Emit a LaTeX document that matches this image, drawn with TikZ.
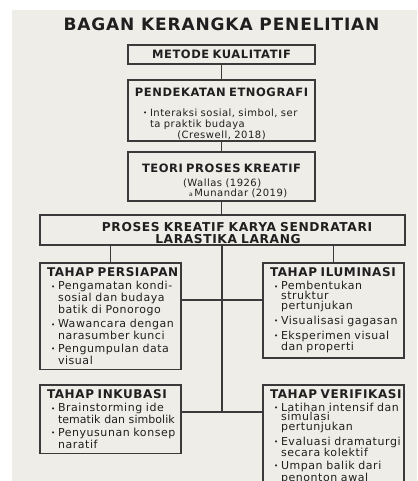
\documentclass[tikz,border=0pt]{standalone}
\usepackage{fontspec}
\setmainfont{DejaVu Sans}[LetterSpace=5]
\usetikzlibrary{positioning}

\definecolor{latar}{HTML}{EFEDE8}
\definecolor{garis}{HTML}{3A3A3A}
\definecolor{tinta}{HTML}{1F1F1F}

\setlength{\parindent}{0pt}
\lineskiplimit=-5pt
\hyphenpenalty=10000
\exhyphenpenalty=10000

\newcommand{\judul}[1]{\hspace*{3.5pt}{\fontsize{12}{12}\selectfont\bfseries #1}}
\newcommand{\judulatas}[1]{{\fontsize{11.5}{11.5}\selectfont\bfseries #1}}
\newcommand{\tengah}[1]{\makebox[\hsize][c]{#1}}
\newcommand{\rapat}[1]{{\addfontfeature{LetterSpace=0.5}#1}}
\newcommand{\tanda}{\raisebox{0.6pt}{\fontsize{7}{7}\selectfont\textbullet}}
\newcommand{\butir}[2][7.5pt]{\par\vspace{3pt}\hangindent=\dimexpr#1+7pt\relax\hangafter=1%
  \hspace*{#1}\makebox[7pt][l]{\tanda}#2\par}

\tikzset{
  kotak/.style={draw=garis, line width=1.3pt, outer sep=0pt, inner xsep=7pt,
    text=tinta, align=left, anchor=north west, font=\fontsize{11}{10}\selectfont},
  atas/.style={kotak, text width=173pt, inner ysep=1.5pt, font=\fontsize{10}{10}\selectfont},
  tahap/.style={kotak, text width=134pt, inner xsep=3.5pt, inner ysep=5pt},
  hubung/.style={draw=garis, line width=1.3pt}
}

\begin{document}
\begin{tikzpicture}[x=1pt,y=-1pt]
        \useasboundingbox (0,0) rectangle (417,481);
        \clip (0,0) rectangle (417,481);
        \fill[latar] (12,10) rectangle (417,481);

        % judul
        \node [text=tinta,font=\fontsize{17}{17}\selectfont\bfseries] (judulutama) at (221.5,24.5) {BAGAN KERANGKA PENELITIAN};

        % alur atas
        \node [atas,minimum height=19pt] (metode) at (128,45)
        {
        \tengah{\judulatas{METODE KUALITATIF}}
        };

        \node [atas,minimum height=60pt,font=\fontsize{10}{11}\selectfont] (etno) at (128,80)
        {
        \tengah{\rule{0pt}{15.4pt}\judulatas{PENDEKATAN ETNOGRAFI}}\par\vspace{5.3pt}
        \butir[8pt]{Interaksi sosial, simbol, ser\newline ta praktik budaya}
        \tengah{(Creswell, 2018)}
        };

        \node [atas,minimum height=49pt] (teori) at (128,152)
        {
        \tengah{\rule{0pt}{17.6pt}\judulatas{TEORI PROSES KREATIF}}\par\vspace{3.5pt}
        \hspace*{48pt}(Wallas (1926)\par
        \hspace*{54pt}{\fontsize{6}{6}\selectfont a}\,Munandar (2019)
        };

        \node [kotak,align=center,text width=351pt,minimum height=30pt,inner ysep=1pt,font=\fontsize{12.25}{11.7}\selectfont\bfseries] (proses) at (40,215)
        {
        \rule{0pt}{14.9pt}\hspace*{29pt}PROSES KREATIF KARYA SENDRATARI\\
        \hspace*{11pt}LARASTIKA LARANG
        };

        % empat tahap
        \node [tahap,minimum height=104pt] (persiapan) at (40,263)
        {
        \judul{TAHAP PERSIAPAN}
        \butir{Pengamatan kondi-\newline sosial dan budaya\newline batik di Ponorogo}
        \butir{Wawancara dengan\newline narasumber kunci}
        \butir{Pengumpulan data\newline visual}
        };

        \node [tahap,minimum height=95pt] (iluminasi) at (263,263)
        {
        \judul{TAHAP ILUMINASI}
        \butir{Pembentukan\newline struktur\newline pertunjukan}
        \butir{Visualisasi gagasan}
        \butir{Eksperimen visual\newline dan properti}
        };

        \node [tahap,minimum height=65pt] (inkubasi) at (40,385)
        {
        \judul{TAHAP INKUBASI}
        \butir{Brainstorming ide\newline \rapat{tematik~dan~simbolik}}
        \butir{Penyusunan konsep\newline naratif}
        };

        \node [tahap,inner ysep=4.5pt,font=\fontsize{11}{9.7}\selectfont] (verifikasi) at (263,385)
        {
        \judul{TAHAP VERIFIKASI}
        \butir{Latihan intensif dan\newline simulasi\newline pertunjukan}
        \butir{Evaluasi dramaturgi\newline secara kolektif}
        \butir{Umpan balik dari\newline penonton awal}
        \vspace*{12pt}
        };

        % penghubung
        \coordinate (cabang1) at (222,300);
        \coordinate (cabang2) at (222,412);

        \draw [hubung] (metode) -- (etno);
        \draw [hubung] (etno) -- (teori);
        \draw [hubung] (teori.south) -- (teori.south |- proses.north);
        \draw [hubung] (proses.south -| persiapan.north) -- (persiapan.north);
        \draw [hubung] (proses.south -| iluminasi.north) -- (iluminasi.north);
        \draw [hubung] (proses.south -| cabang2) -- (cabang2);
        \draw [hubung] (persiapan.east |- cabang1) -- (iluminasi.west |- cabang1);
        \draw [hubung] (inkubasi.east |- cabang2) -- (verifikasi.west |- cabang2);
\end{tikzpicture}
\end{document}
